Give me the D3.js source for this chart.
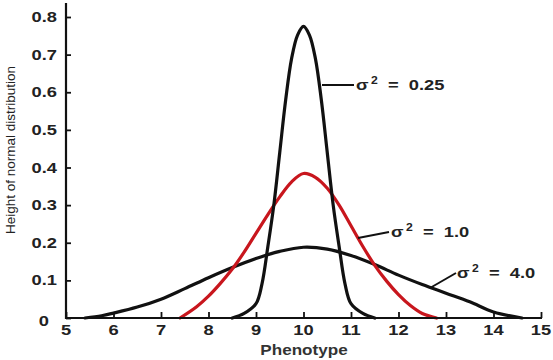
<!DOCTYPE html>
<html><head><meta charset="utf-8">
<script src="https://cdn.jsdelivr.net/npm/d3@7"></script>
<style>
html,body{margin:0;padding:0;background:#fff;}
svg{display:block;font-family:"Liberation Sans",Arial,Helvetica,sans-serif;}
</style></head>
<body>
<svg id="chart" width="553" height="360"></svg>
<script>
// ---- data ----
const xTicks = [5,6,7,8,9,10,11,12,13,14,15];
const yTicks = [0,0.1,0.2,0.3,0.4,0.5,0.6,0.7,0.8];
const yTickLabels = ["0","0.1","0.2","0.3","0.4","0.5","0.6","0.7","0.8"];

// sigma^2 = 0.25
const narrowX = [8.5,8.75,9.0,9.125,9.25,9.375,9.5,9.625,9.75,9.875,10,10.125,10.25,10.375,10.5,10.625,10.75,10.875,11.0,11.25,11.5];
const narrowY = [0,0.012,0.038,0.09,0.19,0.30,0.44,0.58,0.69,0.752,0.775,0.752,0.69,0.58,0.44,0.30,0.19,0.09,0.038,0.012,0];
// sigma^2 = 1.0
const midX = [7.4,7.75,8.0,8.25,8.5,8.75,9.0,9.25,9.5,9.75,10.0,10.25,10.5,10.75,11.0,11.25,11.5,11.75,12.0,12.25,12.5,12.8];
const midY = [0,0.03,0.058,0.092,0.13,0.175,0.225,0.275,0.322,0.362,0.384,0.374,0.345,0.3,0.245,0.19,0.14,0.098,0.062,0.033,0.012,0];
// sigma^2 = 4.0
const wideX = [5.4,5.75,6.0,6.5,7.0,7.5,8.0,8.5,9.0,9.5,10.0,10.5,11.0,11.5,12.0,12.5,13.0,13.5,14.0,14.6];
const wideY = [0,0.006,0.013,0.029,0.05,0.078,0.107,0.134,0.158,0.177,0.188,0.183,0.166,0.142,0.114,0.089,0.066,0.043,0.016,0];

const seriesLabels = ["0.25","1.0","4.0"];

// ---- drawing ----
const svg = d3.select("#chart");
const x = d3.scaleLinear().domain([5,15]).range([66,541]);
const y = d3.scaleLinear().domain([0,0.8]).range([318,17]);

const line = d3.line().x(d=>x(d[0])).y(d=>Math.min(y(0), y(d[1]))).curve(d3.curveCatmullRom.alpha(0.5));

function draw(xs, ys, color){
  svg.append("path")
    .datum(xs.map((v,i)=>[v, ys[i]]))
    .attr("d", line)
    .attr("fill","none")
    .attr("stroke",color)
    .attr("stroke-width",3.2)
    .attr("stroke-linejoin","round")
    .attr("stroke-linecap","round");
}
draw(wideX, wideY, "#111");
draw(midX, midY, "#c8161d");
draw(narrowX, narrowY, "#111");

// axes
const yAxis = d3.axisRight(y).tickValues(yTicks).tickSize(5).tickFormat("");
const gy = svg.append("g").attr("transform","translate(66,0)").call(yAxis);
gy.select(".domain").remove();
gy.selectAll(".tick line").attr("stroke","#111").attr("stroke-width",1.8);
svg.append("line").attr("x1",66).attr("x2",66).attr("y1",3).attr("y2",y(0)+1)
  .attr("stroke","#111").attr("stroke-width",2.2);

const xAxis = d3.axisTop(x).tickValues(xTicks).tickSize(6).tickFormat("");
const gx = svg.append("g").attr("transform",`translate(0,${y(0)})`).call(xAxis);
gx.select(".domain").remove();
gx.selectAll(".tick line").attr("stroke","#111").attr("stroke-width",1.8);
svg.append("line").attr("x1",65).attr("x2",x(15)+1).attr("y1",y(0)).attr("y2",y(0))
  .attr("stroke","#111").attr("stroke-width",2.2);

const SX = 1.22; // horizontal stretch of the scanned lettering
// y tick labels
svg.append("g").selectAll("text").data(yTicks).join("text")
  .attr("transform",(d,i)=> i===0 ? `translate(49,${y(d)+8}) scale(${SX},1)` : `translate(57,${y(d)+5}) scale(${SX},1)`)
  .attr("text-anchor","end")
  .attr("font-size",15).attr("font-weight","bold").attr("fill","#222")
  .text((d,i)=>yTickLabels[i]);

// x tick labels
svg.append("g").selectAll("text").data(xTicks).join("text")
  .attr("transform", d=>`translate(${x(d)},335) scale(${SX},1)`)
  .attr("text-anchor","middle")
  .attr("font-size",15).attr("font-weight","bold").attr("fill","#222")
  .text(d=>d);

// axis titles
svg.append("text").attr("transform",`translate(304,355) scale(${SX},1)`).attr("text-anchor","middle")
  .attr("font-size",14).attr("font-weight","bold").attr("fill","#333").text("Phenotype");
svg.append("text").attr("transform","translate(15,150) rotate(-90)").attr("text-anchor","middle")
  .attr("font-size",13.5).attr("fill","#222").text("Height of normal distribution");

// series labels with leader lines
const annos = [
  {lx1:322, ly1:85, lx2:354, ly2:85, tx:356, ty:90, i:0},
  {lx1:358, ly1:238, lx2:389, ly2:232, tx:391, ty:237, i:1},
  {lx1:430, ly1:288, lx2:456, ly2:273, tx:457, ty:278, i:2}
];
annos.forEach(a=>{
  svg.append("line").attr("x1",a.lx1).attr("y1",a.ly1).attr("x2",a.lx2).attr("y2",a.ly2)
    .attr("stroke","#111").attr("stroke-width",2);
  const t = svg.append("text").attr("transform",`translate(${a.tx},${a.ty}) scale(${SX},1)`)
    .attr("font-size",15).attr("font-weight","bold").attr("fill","#222")
    .attr("xml:space","preserve");
  t.append("tspan").text("σ");
  t.append("tspan").attr("dy",-6).attr("dx",2).attr("font-size",10).text("2");
  t.append("tspan").attr("dy",6).text("  =  " + seriesLabels[a.i]);
});
</script>
</body></html>
